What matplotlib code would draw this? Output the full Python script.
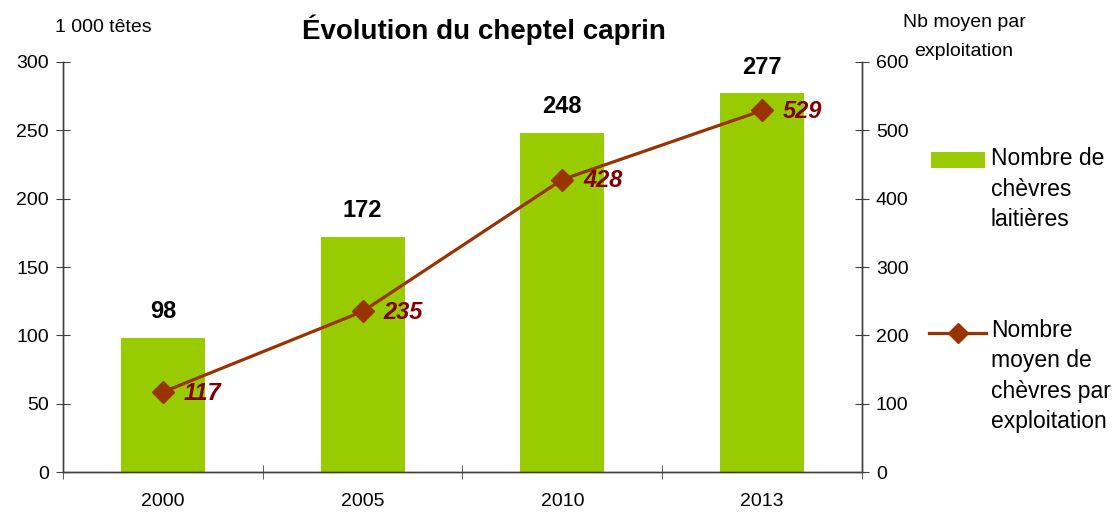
import matplotlib.pyplot as plt
import numpy as np
from matplotlib.lines import Line2D
from matplotlib.patches import Rectangle

plt.rcParams["font.family"] = ["Liberation Sans", "DejaVu Sans"]

years = ["2000", "2005", "2010", "2013"]
chevres = [98, 172, 248, 277]          # 1 000 têtes
moyenne = [117, 235, 428, 529]         # nb moyen par exploitation

bar_color = "#99CC00"
line_color = "#993300"
label_color = "#800000"

W, H = 1117, 512
fig = plt.figure(figsize=(W / 100, H / 100), dpi=100)
ax = fig.add_axes([0.0564, 0.078, 0.7153, 0.801])
ax2 = ax.twinx()

x = np.arange(len(years))
ax.bar(x, chevres, width=0.42, color=bar_color, zorder=2)
ax2.plot(x, moyenne, color=line_color, lw=2.3, marker="D", ms=11,
         markerfacecolor=line_color, markeredgecolor=line_color, zorder=3)

ax.set_xlim(-0.5, len(years) - 0.5)
ax.set_ylim(0, 300)
ax2.set_ylim(0, 600)
ax.set_yticks(np.arange(0, 301, 50))
ax2.set_yticks(np.arange(0, 601, 100))
ax.set_xticks(x)
ax.set_xticklabels(years)
ax.set_xticks(np.arange(-0.5, len(years)), minor=True)

for a in (ax, ax2):
    a.spines["top"].set_visible(False)
    for s in a.spines.values():
        s.set_color("#404040")
        s.set_linewidth(1)
ax.tick_params(axis="y", direction="inout", length=10, labelsize=14, pad=5, color="#404040")
ax2.tick_params(axis="y", direction="inout", length=10, labelsize=14, pad=5, color="#404040")
ax.tick_params(axis="x", which="major", length=0, labelsize=14, pad=15)
ax.tick_params(axis="x", which="minor", direction="inout", length=10, color="#404040")

for xi, v in zip(x, chevres):
    ax.annotate(str(v), (xi, v), xytext=(0, 19), textcoords="offset points",
                ha="center", va="center", fontsize=17, fontweight="bold")
for xi, v in zip(x, moyenne):
    ax2.annotate(str(v), (xi, v), xytext=(15, -1), textcoords="offset points",
                 ha="left", va="center", fontsize=17, fontweight="bold",
                 fontstyle="italic", color=label_color)

fig.text(484 / W, 1 - 30 / H, "Évolution du cheptel caprin", ha="center", va="center",
         fontsize=20, fontweight="bold")
fig.text(55 / W, 1 - 28 / H, "1 000 têtes", ha="left", va="center", fontsize=14)
fig.text(964 / W, 1 - 37 / H, "Nb moyen par\nexploitation", ha="center", va="center",
         fontsize=14, linespacing=1.85)

# legend, drawn by hand so the keys sit on the first line of each label
fig.add_artist(Rectangle((931 / W, 1 - 168 / H), 54 / W, 16 / H,
                         transform=fig.transFigure, facecolor=bar_color, edgecolor="none"))
fig.add_artist(Line2D([929 / W, 986 / W], [1 - 333 / H, 1 - 333 / H], transform=fig.transFigure,
                      color=line_color, lw=2.3))
fig.add_artist(Line2D([957.5 / W], [1 - 333 / H], transform=fig.transFigure, color=line_color,
                      marker="D", ms=10, markeredgecolor=line_color))
fig.text(991 / W, 1 - 189 / H, "Nombre de\nchèvres\nlaitières", ha="left", va="center",
         fontsize=16.5, linespacing=1.4)
fig.text(991 / W, 1 - 376 / H, "Nombre\nmoyen de\nchèvres par\nexploitation", ha="left",
         va="center", fontsize=16.5, linespacing=1.4)

fig.savefig("out.png", dpi=100)
